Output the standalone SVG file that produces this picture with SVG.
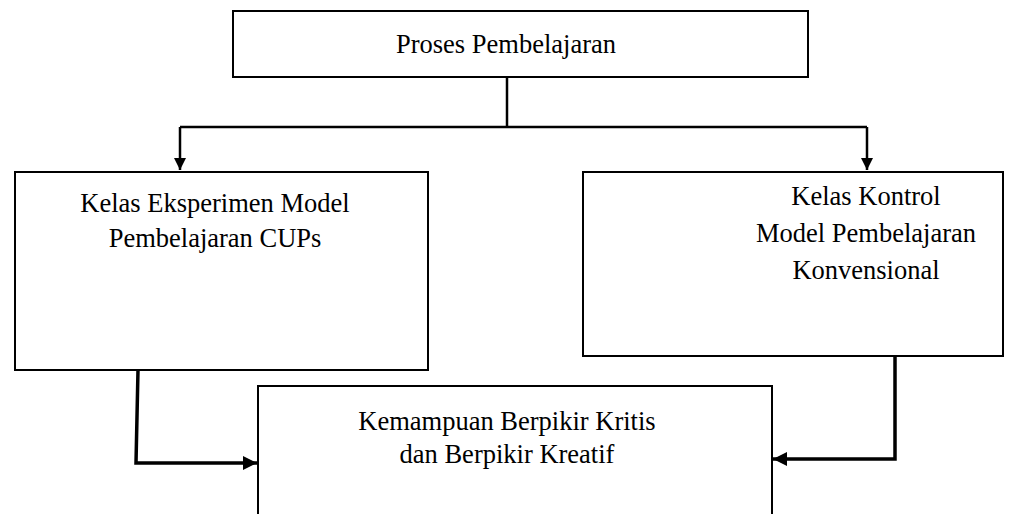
<svg xmlns="http://www.w3.org/2000/svg" width="1015" height="514" viewBox="0 0 1015 514">
<style>
.box{fill:#fff;stroke:#000;stroke-width:2}
.t{font-family:"Liberation Serif","Times New Roman",serif;font-size:26.5px;fill:#000;text-anchor:middle}
.c{fill:none;stroke:#000;stroke-width:2.5}
.c2{fill:none;stroke:#000;stroke-width:3.5}
</style>
<defs>
<marker id="ah" viewBox="0 0 10 10" refX="10" refY="5" markerWidth="5" markerHeight="5" orient="auto" markerUnits="strokeWidth">
<path d="M0,0 L10,5 L0,10 Z" fill="#000"/>
</marker>
<marker id="ah2" viewBox="0 0 10 10" refX="10" refY="5" markerWidth="4" markerHeight="4" orient="auto" markerUnits="strokeWidth">
<path d="M0,0 L10,5 L0,10 Z" fill="#000"/>
</marker>
</defs>
<g id="connectors">
<polyline class="c" points="507,77 507,127"/>
<polyline class="c" points="180,127 867,127"/>
<polyline class="c" points="180,127 180,170" marker-end="url(#ah)"/>
<polyline class="c" points="867,127 867,170" marker-end="url(#ah)"/>
<polyline class="c2" points="138,370 136,463 257,463" marker-end="url(#ah2)"/>
<polyline class="c2" points="895,356 895,459 773,459" marker-end="url(#ah2)"/>
</g>
<g id="proses">
<rect class="box" x="233" y="11" width="575" height="66"/>
<text class="t" x="506" y="53">Proses Pembelajaran</text>
</g>
<g id="eksperimen">
<rect class="box" x="15" y="172" width="413" height="198"/>
<text class="t" x="215" y="212">Kelas Eksperimen Model</text>
<text class="t" x="215" y="247">Pembelajaran CUPs</text>
</g>
<g id="kontrol">
<rect class="box" x="583" y="172" width="420" height="184"/>
<text class="t" x="866" y="205">Kelas Kontrol</text>
<text class="t" x="866" y="242">Model Pembelajaran</text>
<text class="t" x="866" y="279">Konvensional</text>
</g>
<g id="kemampuan">
<rect class="box" x="258" y="386" width="514" height="140"/>
<text class="t" x="507" y="430">Kemampuan Berpikir Kritis</text>
<text class="t" x="507" y="463">dan Berpikir Kreatif</text>
</g>
</svg>
